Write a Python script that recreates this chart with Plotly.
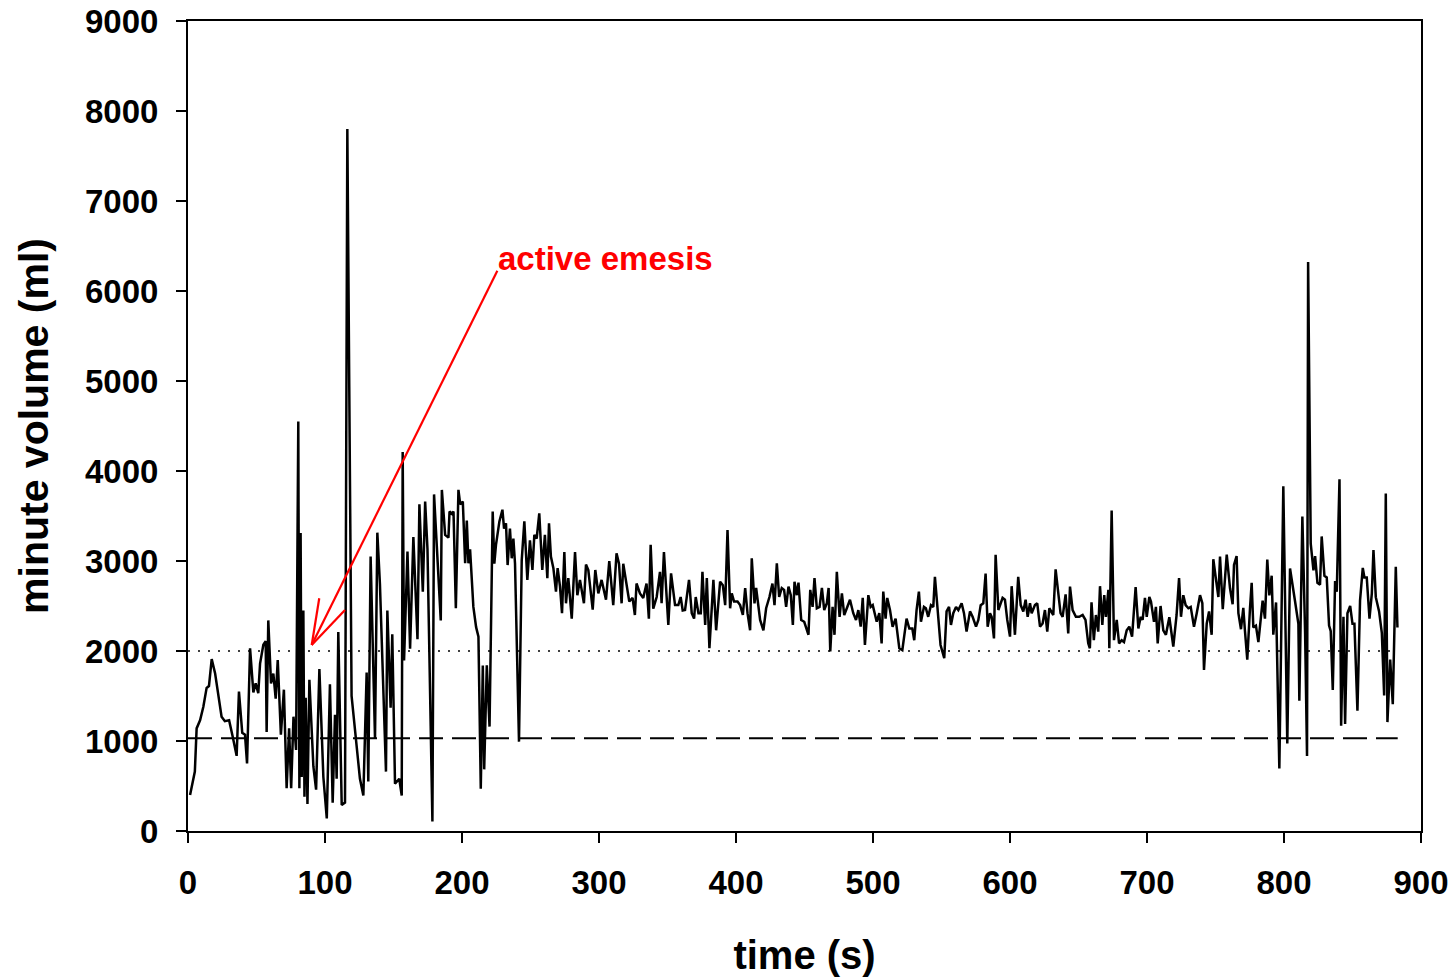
import plotly.graph_objects as go

# ---------------- data ----------------
time_s = [
    1.5, 5, 6.3, 8.8, 11.2, 13.6, 15.3, 17.3, 19.8, 22.1, 24.5, 26.9, 30, 32.6, 35.5, 37.2, 39.6, 41.6, 43.1, 45.3,
    47.7, 49.4, 51.3, 52.6, 55, 56.7, 57.4, 58.6, 60.6, 62.3, 64, 65.5, 67.8, 70, 72, 73.8, 75.3, 77, 78.9, 80.5,
    81.3, 82.2, 83, 84.2, 85, 85.9, 87.2, 88.6, 91.5, 93.5, 95.9, 98.8, 101.3,
    103.6, 105.6, 107.3, 108.5, 109.7, 112.2, 114.6, 116.3, 119.4, 121.9, 125.5, 128, 130.4, 131.6, 133.3, 136.5,
    138.2, 140.1, 144.5, 145.5, 147.9, 149.1, 151.1, 154.2, 156, 156.7, 157.7, 160.2, 162.1, 164.5, 167.5, 168.9,
    171.4, 173.1, 174.8, 178.4, 179.6, 184.5, 185.3, 187.7, 190.1, 190.9, 192.6, 193.8, 195.5, 197.4, 198.7, 200.6,
    202.3, 203.5, 204.7, 205.9, 208.3, 210.3, 212, 213.7, 215.2, 216.2, 218.1, 220.1, 222.4, 223.6, 224.8, 227.3,
    229.5, 230.7, 232.1, 233.3, 235, 236.3, 237.5, 238.7, 241.6, 243.6, 245.5, 247.7, 249.6, 251.4, 252.8, 254.5,
    256.4, 258.6, 260.5, 262.3, 263.5, 264.9, 266.7, 268.6, 269.8, 271.5, 273, 274.7, 275.9, 277.6, 280.1, 282.5,
    284.2, 286.1, 289, 290.5, 292.2, 295.4, 297.3, 299.5, 301.9, 305.1, 307.5, 310.4, 312.8, 314.6, 316.5, 317.7,
    320.1, 322.1, 324.5, 326.2, 327.4, 329.9, 332.3, 334.7, 336.4, 337.7, 339.6, 342.1,
    344.5, 345.7, 347.4, 350.6, 352.6, 355.5, 357.9, 359.6, 361.1, 362.8, 365.7, 367.7, 369.4, 370.6, 372.6, 374.3,
    375.5, 377.5, 378.7, 380.6, 383.5, 385.5, 388.4, 390.4, 392.1, 393.8, 395.7, 396.9, 398.6, 401.1, 403, 405,
    406.7, 408.4, 410.3, 411.5, 413.5, 414.7, 417.6, 420, 422, 424.4, 426.6, 428.1, 429.8, 431.5, 433.4, 435.1,
    436.6, 438.3, 440, 441.5, 442.7, 444.4, 445.6, 447.6, 449.8, 451.7, 452.9, 454.2, 455.9, 457.3, 459, 461,
    462.7, 464.4, 466.3, 467.6, 468.8, 470.5, 471.9, 473.6, 475.6, 477.3, 479, 480.9,
    483.2, 485.6, 487.6, 489.3, 491, 492.5, 494.1, 496.6, 498.3, 499.8, 501.5, 502.7, 504.6, 506.3, 507.5, 509.2,
    510.4, 512.4, 514.3, 516.5, 519.2, 521.4, 524.5, 526.5, 528.7, 530.1, 531.8, 533.5, 535, 537.2, 538.6, 540.3,
    542.3, 544, 545.2, 546.9, 549.3, 552, 553.7, 555.5, 556.9, 558.6, 560.6, 562.3, 564.7, 566.4, 568.3, 570.8,
    572.7, 575.2, 576.9, 578.6, 580.5, 582.2, 583.7, 585.4, 586.6, 588.3, 589.5, 591.5, 594.6, 596.3, 598, 600,
    601.2, 603.6, 606, 607.8, 609.7, 611.4, 612.9, 614.6, 615.8, 618.2, 619.9,
    621.9, 623.8, 625.5, 627.2, 628.7, 630.4, 631.6, 633.3, 635.2, 636.9, 638.4, 640.6, 642.5, 643.8, 645.7, 648.1,
    650.5, 653, 655.1, 657.1, 658.3, 659.5, 661.2, 662.7, 664.4, 665.7, 667.4, 668.8, 670, 671.8, 672.5, 674.2,
    675.9, 677.9, 679.6, 681.5, 683.2, 685.2, 687.1, 689.1, 691.7, 693.7, 695.4, 696.8, 698.5, 699.8, 701.7, 702.9,
    705.1, 706.5, 707.8, 709.9, 711.9, 713.8, 716.3, 719.2, 721.6, 723.4, 724.8, 726.5, 728.2, 730.2, 731.9, 734.3,
    736.3, 738.7, 740.4, 741.6, 743.6, 745.3, 747.2, 748.4, 750.4, 752.1, 753.3, 755.3, 758.2,
    760.6, 762.5, 763.5, 765.4, 766.7, 768.6, 770.3, 771.5, 773.2, 775.2, 776.4, 777.6, 779.5, 781.3, 783, 784.4,
    786.1, 787.8, 789.3, 791, 792.2, 794.2, 796.6, 799.5, 802.4, 804.4, 808, 810.5, 811.2, 813.4, 815.4, 816.8,
    817.6, 819.5, 821.5, 822.7, 824.4, 826.3, 827.5, 829.5, 831.2, 832.9, 834.1, 835.6, 837.3, 838.5, 840.5, 841.7,
    843.4, 844.6, 846.3, 848.3, 850, 851.4, 853.6, 855.5, 857.5, 858.7, 860.4, 862.4, 864.1, 865.3, 867, 869.4,
    871.4, 873.1, 874.3, 875.5, 877.5, 879.4, 881.6, 882.8,
]

minute_volume_ml = [
    400, 660, 1140, 1230, 1380, 1590, 1610, 1910, 1750, 1490, 1270, 1220, 1230, 1050, 835, 1550, 1090, 1070, 750, 2030,
    1540, 1640, 1530, 1860, 2070, 2110, 1100, 2340, 1640, 1750, 1470, 1900, 1070, 1570, 475, 1140, 475, 1270, 900, 4550,
    475, 3310, 600, 2450, 380, 1480, 300, 1680, 720, 460, 1800, 600, 140,
    1630, 315, 1290, 580, 2210, 290, 315, 7800, 1500, 1105, 580, 395, 1760, 550, 3050, 1025,
    3315, 2740, 660, 2450, 1370, 2185, 525, 580, 395, 4210, 1895, 3105, 2025, 3265, 2130, 3630,
    2660, 3660, 3130, 105, 3740, 2340, 3790, 3290, 3260, 3550, 3525, 3550, 2475, 3790, 3630, 3660,
    2975, 3450, 2975, 3130, 2490, 2265, 2160, 470, 1840, 685, 1840, 1160, 3550, 2970, 3180, 3440,
    3570, 3360, 3420, 2955, 3360, 3030, 3250, 2970, 993, 3010, 3440, 2790, 3230, 2900, 3290, 3250,
    3530, 2900, 3290, 2810, 3420, 3050, 2920, 2660, 2920, 2720, 2420, 3100, 2530, 2810, 2360, 3100,
    2620, 2790, 2530, 2960, 2900, 2460, 2900, 2640, 2790, 2570, 3000, 2510, 3085, 2970, 2530, 2970,
    2750, 2550, 2590, 2400, 2750, 2640, 2590, 2750, 2360, 3180, 2470, 2600,
    2880, 2530, 3100, 2290, 2863, 2510, 2510, 2600, 2450, 2455, 2790, 2420, 2360, 2600, 2420, 2420,
    2880, 2290, 2810, 2030, 2790, 2230, 2770, 2730, 2510, 3345, 2475, 2640, 2550, 2550, 2510, 2400,
    2700, 2420, 2230, 3030, 2530, 2700, 2345, 2230, 2475, 2600, 2750, 2510, 2975, 2600, 2700, 2680,
    2490, 2715, 2620, 2290, 2770, 2620, 2760, 2345, 2325, 2250, 2180, 2680, 2490, 2810, 2475, 2490,
    2700, 2455, 2530, 2700, 1995, 2490, 2180, 2880, 2380, 2640, 2400, 2475,
    2570, 2420, 2345, 2455, 2270, 2590, 2067, 2620, 2490, 2510, 2380, 2325, 2420, 2085, 2660, 2360,
    2590, 2455, 2270, 2360, 2030, 2010, 2360, 2250, 2250, 2120, 2455, 2660, 2325, 2490, 2475, 2380,
    2510, 2490, 2825, 2530, 2067, 1920, 2440, 2490, 2290, 2420, 2490, 2455, 2530, 2420, 2215, 2440,
    2380, 2270, 2345, 2510, 2530, 2860, 2270, 2420, 2380, 2140, 3070, 2455, 2590, 2570, 2345, 2160,
    2720, 2180, 2825, 2510, 2440, 2570, 2380, 2530, 2420, 2510, 2530,
    2270, 2305, 2455, 2215, 2475, 2420, 2400, 2908, 2680, 2420, 2380, 2630, 2195, 2715, 2455, 2380,
    2380, 2400, 2345, 2085, 2030, 2540, 2120, 2400, 2215, 2720, 2290, 2620, 2380, 2680, 2030, 3560,
    2120, 2345, 2085, 2120, 2100, 2230, 2270, 2160, 2710, 2250, 2380, 2345, 2590, 2380, 2600, 2550,
    2325, 2490, 2085, 2500, 2230, 2180, 2375, 2050, 2400, 2810, 2380, 2620, 2510, 2475, 2490, 2270,
    2420, 2620, 2530, 1790, 2305, 2440, 2180, 3020, 2790, 2600, 3050, 2465, 3070,
    2697, 2520, 2956, 3055, 2420, 2242, 2480, 2222, 1904, 2480, 2757, 2262, 2282, 2100, 2400, 2559,
    2360, 3015, 2618, 2836, 2182, 2540, 694, 3830, 972, 2916, 2559, 2302, 1448, 3493, 2202, 833,
    6322, 3194, 2896, 3055, 2757, 2737, 3273, 2836, 2817, 2282, 2222, 1567, 2777, 2658, 3908, 1170,
    2380, 1190, 2420, 2500, 2302, 2302, 1337, 2559, 2924, 2817, 2817, 2360, 2638, 3122, 2598, 2440,
    2202, 1507, 3750, 1210, 1904, 1408, 2936, 2262,
]

# reference levels
reference_span_s = [0, 883]
dotted_level_ml = 2000
dashed_level_ml = 1030

# axis ticks
x_ticks = [0, 100, 200, 300, 400, 500, 600, 700, 800, 900]
y_ticks = [0, 1000, 2000, 3000, 4000, 5000, 6000, 7000, 8000, 9000]

# annotation geometry (data units)
label_text = "active emesis"
label_pos = (225, 6356)
arrow_tail = (225.8, 6226)
arrow_tip = (90.3, 2067)
barb_1 = (95.8, 2586)
barb_2 = (114.6, 2456)

FONT = "Liberation Sans, Arial, Helvetica, sans-serif"

fig = go.Figure()

fig.add_trace(go.Scatter(
    x=reference_span_s, y=[dotted_level_ml] * 2, mode="lines",
    line=dict(color="black", width=1.6, dash="2px,8px"), hoverinfo="skip", showlegend=False))
fig.add_trace(go.Scatter(
    x=reference_span_s, y=[dashed_level_ml] * 2, mode="lines",
    line=dict(color="black", width=2, dash="24px,9px"), hoverinfo="skip", showlegend=False))
fig.add_trace(go.Scatter(
    x=time_s, y=minute_volume_ml, mode="lines",
    line=dict(color="black", width=2.5), showlegend=False))

# arrow (main line + two barbs)
for a, b in [(arrow_tail, arrow_tip), (arrow_tip, barb_1), (arrow_tip, barb_2)]:
    fig.add_shape(type="line", xref="x", yref="y", x0=a[0], y0=a[1], x1=b[0], y1=b[1],
                  line=dict(color="red", width=2.2))

fig.add_annotation(x=label_pos[0], y=label_pos[1], xref="x", yref="y", text="<b>%s</b>" % label_text,
                   showarrow=False, xanchor="left", yanchor="middle",
                   font=dict(family=FONT, size=33, color="red"))

axis_common = dict(
    showgrid=False, zeroline=False, showline=True, linecolor="black", linewidth=2, mirror=True,
    ticks="outside", ticklen=10, tickwidth=1.5, tickcolor="black",
    tickfont=dict(family=FONT, size=33, color="black", weight="bold"),
)

fig.update_xaxes(range=[0, 900], tickvals=x_ticks, ticklabelstandoff=11,
                 title=dict(text="<b>time (s)</b>", font=dict(family=FONT, size=40, color="black"), standoff=41),
                 **axis_common)
fig.update_yaxes(range=[0, 9000], tickvals=y_ticks, ticklabelstandoff=11,
                 title=dict(text="<b>minute volume (ml)</b>", font=dict(family=FONT, size=41, color="black"), standoff=24),
                 **axis_common)

fig.update_layout(
    width=1455, height=980,
    margin=dict(l=188, r=34, t=21, b=149, autoexpand=False),
    plot_bgcolor="white", paper_bgcolor="white",
)

fig.write_html("out.html")
